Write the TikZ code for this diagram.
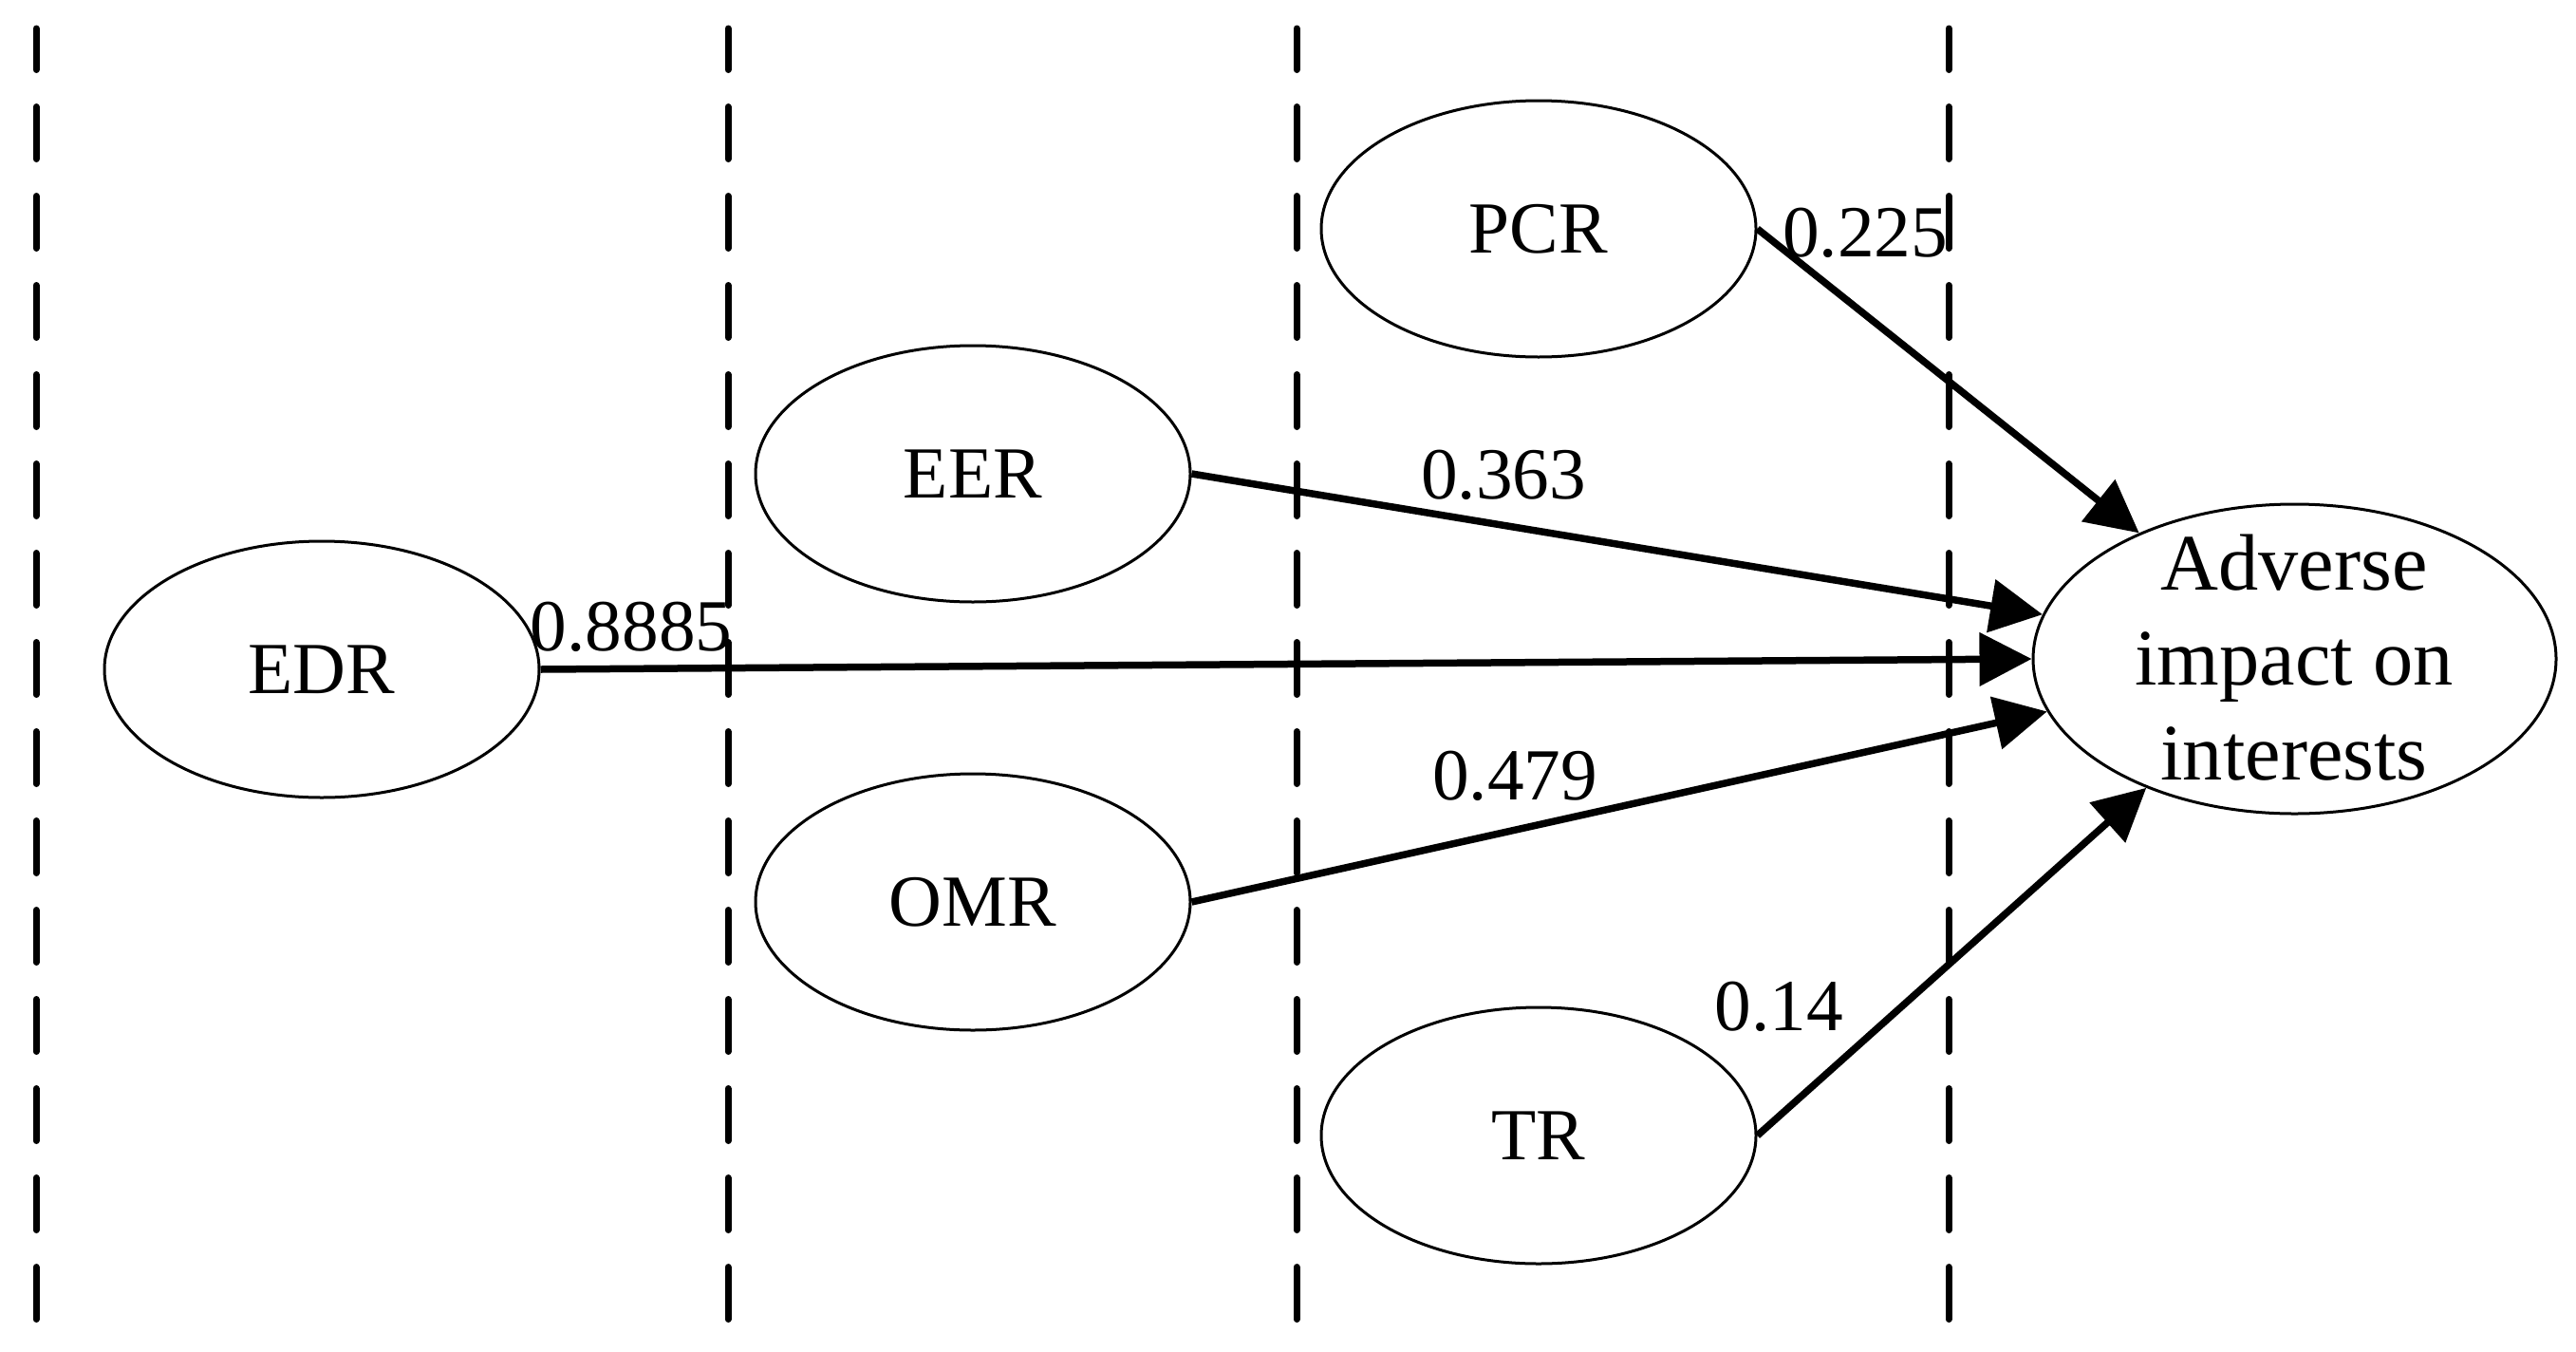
\documentclass[tikz,border=0pt]{standalone}
\usepackage{fontspec}
\setmainfont{Liberation Serif}
\usetikzlibrary{arrows.meta,shapes.geometric}
\begin{document}
\begin{tikzpicture}[x=1cm,y=1cm,
  oval/.style={ellipse, draw, line width=0.03cm, minimum width=4.58cm, minimum height=2.70cm, inner sep=0pt, font=\fontsize{22}{26}\selectfont},
  link/.style={line width=0.075cm, -{Triangle[length=0.55cm,width=0.55cm]}},
  coef/.style={inner sep=0pt, font=\fontsize{22}{26}\selectfont},
  sep/.style={line width=0.07cm, line cap=round, dash pattern=on 0.55cm off 0.39cm}]
\useasboundingbox (0,0) rectangle (27.14,-14.23);
\foreach \x in {0.38,7.67,13.66,20.53} \draw[sep] (\x,-13.895) -- (\x,-0.3);
\node[oval] (edr) at (3.39,-7.05) {EDR};
\node[oval] (eer) at (10.25,-4.99) {EER};
\node[oval] (omr) at (10.25,-9.50) {OMR};
\node[oval] (pcr) at (16.21,-2.41) {PCR};
\node[oval] (tr) at (16.21,-11.96) {TR};
\node[oval, minimum width=5.51cm, minimum height=3.26cm] (adv) at (24.175,-6.94) {};
\node[inner sep=0pt, align=center, font=\fontsize{24}{28.5}\selectfont] (advtxt) at (24.17,-6.925) {Adverse\\impact on\\interests};
\draw[link] (pcr.east) -- (adv.141.3);
\draw[link] (eer.east) -- (adv.170.7);
\draw[link] (edr.east) -- (adv.180);
\draw[link] (omr.east) -- (adv.192.6);
\draw[link] (tr.east) -- (adv.221.6);
\node[coef] (l225) at (19.65,-2.45) {0.225};
\node[coef] (l363) at (15.84,-5.00) {0.363};
\node[coef] (l8885) at (6.65,-6.60) {0.8885};
\node[coef] (l479) at (15.96,-8.17) {0.479};
\node[coef] (l14) at (18.74,-10.60) {0.14};
\end{tikzpicture}
\end{document}
